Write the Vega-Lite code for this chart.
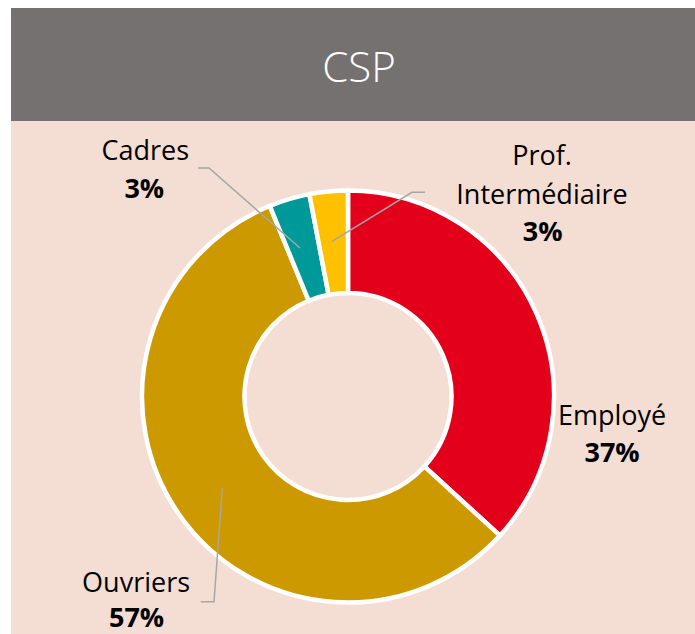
{
  "$schema": "https://vega.github.io/schema/vega-lite/v6.json",
  "background": "white",
  "padding": {"left": 11, "top": 8, "right": 0, "bottom": 0},
  "spacing": 0,
  "config": {"view": {"stroke": null}, "concat": {"spacing": 0}},
  "vconcat": [
    {
      "width": 684,
      "height": 113,
      "view": {"fill": "#767171", "stroke": null},
      "data": {"values": [{"titre": "CSP"}]},
      "mark": {"type": "text", "font": "Open Sans", "fontWeight": 300, "fontSize": 42, "color": "white", "align": "center", "baseline": "alphabetic", "dx": 6, "dy": 17},
      "encoding": {"text": {"field": "titre", "type": "nominal"}}
    },
    {
      "width": 684,
      "height": 513,
      "view": {"fill": "#f4ded3", "stroke": null},
      "data": {"values": [
        {"cat": "Employé", "share": 0.368},
        {"cat": "Ouvriers", "share": 0.570},
        {"cat": "Cadres", "share": 0.032},
        {"cat": "Prof. Intermédiaire", "share": 0.030}
      ]},
      "transform": [{"window": [{"op": "row_number", "as": "rang"}]}],
      "layer": [
        {
          "mark": {"type": "arc", "innerRadius": 103.5, "outerRadius": 206, "stroke": "white", "strokeWidth": 4.5, "xOffset": -5, "yOffset": 19},
          "encoding": {
            "theta": {"field": "share", "type": "quantitative", "stack": true},
            "order": {"field": "rang", "type": "quantitative"},
            "color": {"field": "cat", "type": "nominal", "legend": null,
              "scale": {"domain": ["Employé", "Ouvriers", "Cadres", "Prof. Intermédiaire"], "range": ["#e2001a", "#cc9900", "#009999", "#ffc000"]}}
          }
        },
        {
          "transform": [{"filter": "datum.cat !== 'Employé'"}],
          "mark": {"type": "point", "filled": false, "size": 4, "stroke": "#a6a6a6", "strokeWidth": 1.5, "opacity": 1, "xOffset": -5, "yOffset": 19,
            "shape": {"expr": "datum.cat === 'Cadres' ? 'M-150,-228.5L-139,-228.5L-48,-148.5' : datum.cat === 'Ouvriers' ? 'M-125.7,91.8L-134,205.2L-147.3,205.2' : 'M77,-204.2L64,-204.2L-16.3,-154.8'"}},
          "encoding": {}
        },
        {
          "mark": {"type": "text", "font": "Open Sans", "fontSize": 27, "color": "black", "align": "center", "baseline": "alphabetic", "lineBreak": " ", "lineHeight": 39, "radius": 206, "xOffset": -5, "yOffset": 19,
            "dx": {"expr": "datum.cat === 'Employé' ? 75.5 : datum.cat === 'Ouvriers' ? -43 : datum.cat === 'Cadres' ? -144 : 213.4"},
            "dy": {"expr": "datum.cat === 'Employé' ? 111.6 : datum.cat === 'Ouvriers' ? 77.6 : datum.cat === 'Cadres' ? -39.1 : -26.4"}},
          "encoding": {
            "theta": {"field": "share", "type": "quantitative", "stack": true},
            "order": {"field": "rang", "type": "quantitative"},
            "detail": {"field": "cat", "type": "nominal"},
            "text": {"field": "cat", "type": "nominal"}
          }
        },
        {
          "mark": {"type": "text", "font": "Open Sans", "fontWeight": "bold", "fontSize": 27, "color": "black", "align": "center", "baseline": "alphabetic", "radius": 206, "xOffset": -5, "yOffset": 19,
            "dx": {"expr": "datum.cat === 'Employé' ? 75.5 : datum.cat === 'Ouvriers' ? -42.5 : datum.cat === 'Cadres' ? -145 : 214"},
            "dy": {"expr": "datum.cat === 'Employé' ? 148.6 : datum.cat === 'Ouvriers' ? 112.6 : datum.cat === 'Cadres' ? -1.1 : 49.6"}},
          "encoding": {
            "theta": {"field": "share", "type": "quantitative", "stack": true},
            "order": {"field": "rang", "type": "quantitative"},
            "detail": {"field": "cat", "type": "nominal"},
            "text": {"field": "share", "type": "quantitative", "format": ".0%"}
          }
        }
      ]
    }
  ]
}
